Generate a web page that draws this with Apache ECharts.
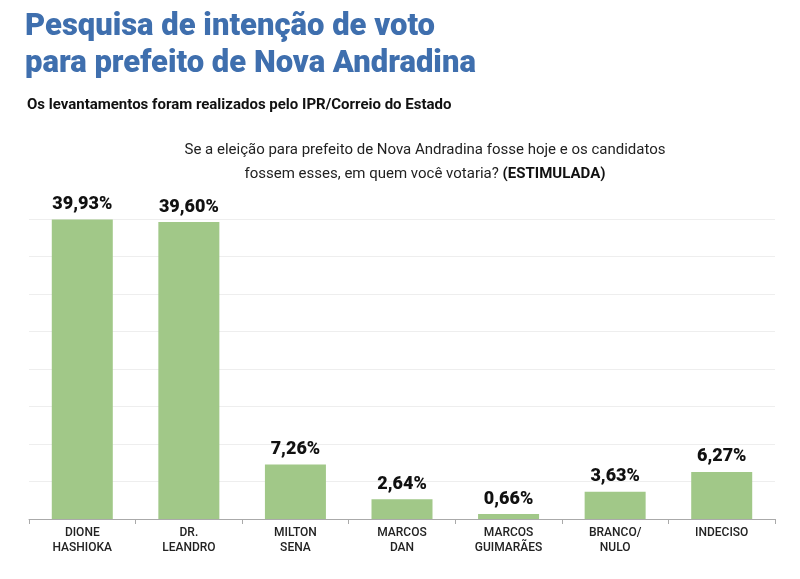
<!DOCTYPE html>
<html><head><meta charset="utf-8">
<script src="https://cdn.jsdelivr.net/npm/echarts@6/dist/echarts.min.js"></script>
<style>body{margin:0;background:#fff}#c{width:800px;height:579px}</style>
</head><body><div id="c"></div>
<script>
const categories = ['DIONE\nHASHIOKA','DR.\nLEANDRO','MILTON\nSENA','MARCOS\nDAN','MARCOS\nGUIMARÃES','BRANCO/\nNULO','INDECISO'];
const values = [39.93, 39.60, 7.26, 2.64, 0.66, 3.63, 6.27];
const chart = echarts.init(document.getElementById('c'));
chart.setOption({
  animation:false,
  title:[
    {text:'Pesquisa de intenção de voto\npara prefeito de Nova Andradina',left:20,top:4,textStyle:{fontFamily:'Roboto',fontWeight:900,fontSize:31,color:'#3f6fae',lineHeight:37}},
    {text:'Os levantamentos foram realizados pelo IPR/Correio do Estado',left:22,top:93,textStyle:{fontFamily:'Roboto',fontWeight:'bold',fontSize:15,color:'#111'}},
    {text:'Se a eleição para prefeito de Nova Andradina fosse hoje e os candidatos\nfossem esses, em quem você votaria? {b|(ESTIMULADA)}',left:420,textAlign:'center',top:133,
     textStyle:{fontFamily:'Roboto',fontWeight:'normal',fontSize:15,color:'#222',lineHeight:24,rich:{b:{fontFamily:'Roboto',fontWeight:'bold',fontSize:15,color:'#111'}}}}
  ],
  grid:{left:29,right:25,top:219,bottom:60},
  xAxis:{type:'category',data:categories,axisLine:{lineStyle:{color:'#aaa'}},axisTick:{show:true,lineStyle:{color:'#aaa'}},
    axisLabel:{fontFamily:'Roboto',fontWeight:500,fontSize:12,color:'#222',lineHeight:15,margin:6}},
  yAxis:{type:'value',min:0,max:40,interval:5,axisLabel:{show:false},axisLine:{show:false},axisTick:{show:false},splitLine:{lineStyle:{color:'#eee'}}},
  series:[{type:'bar',data:values,barWidth:61,itemStyle:{color:'#a1c888'},
    label:{show:true,position:'top',distance:6,fontFamily:'Roboto',fontWeight:900,fontSize:18,color:'#111',
      formatter:p=>p.value.toFixed(2).replace('.',',')+'%'}}]
});
</script></body></html>
